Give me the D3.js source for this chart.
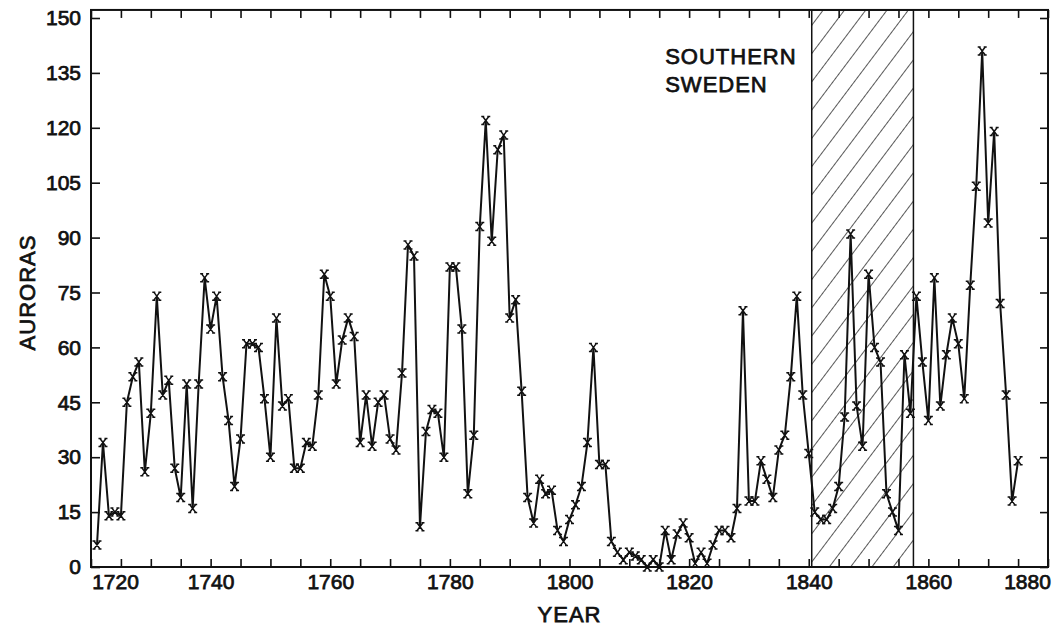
<html>
<head>
<meta charset="utf-8">
<script src="https://d3js.org/d3.v7.min.js"></script>
<style>
body { margin: 0; background: #fff; }
svg text { font-family: "Liberation Sans", Arial, sans-serif; fill: #111; stroke: #111; stroke-width: 0.75; }
</style>
</head>
<body>
<svg width="1057" height="631"></svg>
<script>
// annual aurora counts (1721 - 1875)
var firstYear = 1721;
var auroras = [
  6, 34, 14, 15, 14, 45, 52, 56, 26, 42,
  74, 47, 51, 27, 19, 50, 16, 50, 79, 65,
  74, 52, 40, 22, 35, 61, 61, 60, 46, 30,
  68, 44, 46, 27, 27, 34, 33, 47, 80, 74,
  50, 62, 68, 63, 34, 47, 33, 45, 47, 35,
  32, 53, 88, 85, 11, 37, 43, 42, 30, 82,
  82, 65, 20, 36, 93, 122, 89, 114, 118, 68,
  73, 48, 19, 12, 24, 20, 21, 10, 7, 13,
  17, 22, 34, 60, 28, 28, 7, 4, 2, 4,
  3, 2, 0, 2, 0, 10, 2, 9, 12, 8,
  1, 4, 1, 6, 10, 10, 8, 16, 70, 18,
  18, 29, 24, 19, 32, 36, 52, 74, 47, 31,
  15, 13, 13, 16, 22, 41, 91, 44, 33, 80,
  60, 56, 20, 15, 10, 58, 42, 74, 56, 40,
  79, 44, 58, 68, 61, 46, 77, 104, 141, 94,
  119, 72, 47, 18, 29
];
var years = d3.range(firstYear, firstYear + auroras.length);

var yTicks = [0, 15, 30, 45, 60, 75, 90, 105, 120, 135, 150];
var xLabels = [1720, 1740, 1760, 1780, 1800, 1820, 1840, 1860, 1880];
var xTicks = d3.range(1720, 1881, 5);
var swedenGap = [1840.5, 1857.5];   // hatched period
var gapLabel = ["SOUTHERN", "SWEDEN"];

var svg = d3.select("svg");

var x = d3.scaleLinear().domain([1720, 1880]).range([91, 1048]);
var y = d3.scaleLinear().domain([0, 150]).range([567, 18]);

var frameTop = y(152.2), frameBottom = y(0), frameLeft = x(1720), frameRight = x(1880);

// hatch pattern
var defs = svg.append("defs");
defs.append("pattern")
    .attr("id", "hatch")
    .attr("patternUnits", "userSpaceOnUse")
    .attr("width", 17).attr("height", 17)
    .attr("patternTransform", "rotate(37)")
  .append("line")
    .attr("x1", 0).attr("y1", 0).attr("x2", 0).attr("y2", 17)
    .attr("stroke", "#111").attr("stroke-width", 1.4);

svg.append("rect")
    .attr("x", x(swedenGap[0]))
    .attr("y", frameTop)
    .attr("width", x(swedenGap[1]) - x(swedenGap[0]))
    .attr("height", frameBottom - frameTop)
    .attr("fill", "url(#hatch)")
    .attr("stroke", "#111")
    .attr("stroke-width", 1.5);

// frame
svg.append("rect")
    .attr("x", frameLeft).attr("y", frameTop)
    .attr("width", frameRight - frameLeft).attr("height", frameBottom - frameTop)
    .attr("fill", "none").attr("stroke", "#111").attr("stroke-width", 2);

// axes, ticks pointing inward
svg.append("g")
    .attr("transform", "translate(0," + frameBottom + ")")
    .call(d3.axisBottom(x).tickValues(xTicks).tickSize(-8).tickFormat(""));
var gxl = svg.append("g")
    .attr("transform", "translate(0," + frameBottom + ")")
    .call(d3.axisBottom(x).tickValues(xLabels).tickSize(0).tickPadding(7).tickFormat(d3.format("d")));
svg.append("g")
    .attr("transform", "translate(0," + frameTop + ")")
    .call(d3.axisTop(x).tickValues(xTicks).tickSize(-8).tickFormat(""));
svg.append("g")
    .attr("transform", "translate(" + frameLeft + ",0)")
    .call(d3.axisLeft(y).tickValues(yTicks).tickSize(-9).tickPadding(10));
svg.append("g")
    .attr("transform", "translate(" + frameRight + ",0)")
    .call(d3.axisRight(y).tickValues(yTicks).tickSize(-8).tickFormat(""));

svg.selectAll(".domain").remove();
svg.selectAll(".tick line").attr("stroke", "#111").attr("stroke-width", 1.6);
svg.selectAll(".tick text").attr("font-size", 21).attr("fill", "#111")
    .style("font-family", "'Liberation Sans', Arial, sans-serif");

// end labels sit inside the frame ends
gxl.selectAll(".tick text").attr("dx", function (d) {
  return d === 1720 ? 24 : (d === 1880 ? -21 : 0);
});

// data line
var line = d3.line()
    .x(function (d, i) { return x(years[i]); })
    .y(function (d) { return y(d); });

svg.append("path")
    .datum(auroras)
    .attr("d", line)
    .attr("fill", "none")
    .attr("stroke", "#111")
    .attr("stroke-width", 2)
    .attr("stroke-linejoin", "round");

// x markers
var marker = "M-3,-4L3,4M3,-4L-3,4M-4.5,-4H-1.5M1.5,-4H4.5M-4.5,4H-1.5M1.5,4H4.5";
svg.append("g").selectAll("path")
    .data(auroras)
    .enter()
    .append("path")
    .attr("transform", function (d, i) { return "translate(" + x(years[i]) + "," + y(d) + ")"; })
    .attr("d", marker)
    .attr("fill", "none")
    .attr("stroke", "#111")
    .attr("stroke-width", 1.5);

// annotation
svg.append("text")
    .attr("x", x(1816))
    .attr("y", y(137.5))
    .attr("font-size", 22)
    .attr("letter-spacing", 1)
    .selectAll("tspan")
    .data(gapLabel)
    .enter()
    .append("tspan")
    .attr("x", x(1816))
    .attr("dy", function (d, i) { return i ? 28 : 0; })
    .text(function (d) { return d; });

// axis titles
svg.append("text")
    .attr("transform", "translate(35," + y(75) + ") rotate(-90)")
    .attr("text-anchor", "middle")
    .attr("font-size", 22)
    .attr("letter-spacing", 1)
    .text("AURORAS");

svg.append("text")
    .attr("x", x(1800))
    .attr("y", 622)
    .attr("text-anchor", "middle")
    .attr("font-size", 22)
    .attr("letter-spacing", 1)
    .text("YEAR");
</script>
</body>
</html>
